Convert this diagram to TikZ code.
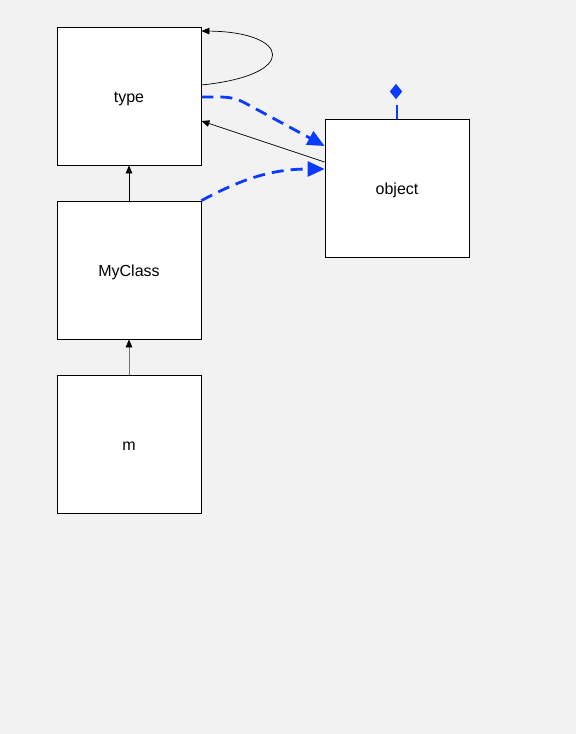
\documentclass[tikz,border=0pt]{standalone}
\usepackage{fontspec}
\setmainfont{Liberation Sans}
\usetikzlibrary{arrows.meta,shapes.geometric}
\definecolor{bg}{HTML}{F2F2F2}
\definecolor{umlblue}{HTML}{0A3BFF}
\begin{document}
\begin{tikzpicture}[x=1pt,y=-1pt,
  classbox/.style={draw=black,fill=white,line width=0.8pt,minimum width=144pt,minimum height=138pt,inner sep=0pt,text height=12pt,text depth=0pt,font=\fontsize{16}{19}\selectfont},
  inh/.style={draw=black,line width=0.7pt,-{Triangle[length=8pt,width=6.5pt,color=black]}},
  dep/.style={draw=umlblue,line width=2.8pt,dash pattern=on 12pt off 7pt,-{Triangle[length=17pt,width=15pt]}},
  diam/.style={draw=none,fill=umlblue,shape=diamond,minimum width=12.5pt,minimum height=15.5pt,inner sep=0pt}
]
\useasboundingbox[fill=bg] (0,0) rectangle (576,734);
\node[classbox] (type) at (129,96) {type};
\node[classbox] (myclass) at (129,270) {MyClass};
\node[classbox] (m) at (129,444) {m};
\node[classbox] (object) at (397,188) {object};
\coordinate (dtop) at (397,99);
\node[diam] (d) at (396,91.5) {};
% inheritance
\draw[inh] (myclass.north) -- (type.south);
\draw[inh,draw=black!55] (m.north) -- (myclass.south);
\draw[inh] (object.west |- 0,162) -- (type.east |- 0,121);
% self loop
\draw[inh] (type.east |- 0,85) .. controls (300,75) and (290,32) .. (type.east |- 0,31);
% dependencies
\draw[dep] (type.east |- 0,97) .. controls (225,97) and (232,96) .. (245,103) -- (object.west |- 0,146);
\draw[dep] (myclass.north east) .. controls (240,180) and (270,169) .. (object.west |- 0,169);
\draw[draw=umlblue,line width=2.8pt] (dtop |- 0,105) -- (object.north);
\end{tikzpicture}
\end{document}
